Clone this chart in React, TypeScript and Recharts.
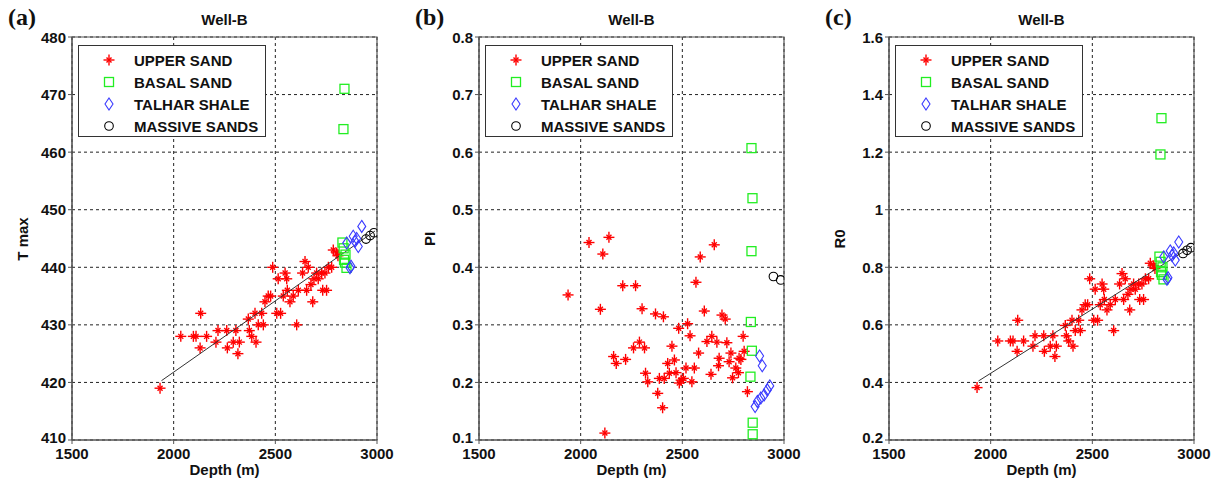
import React from "react";
import {
  ScatterChart, Scatter, XAxis, YAxis, CartesianGrid, ReferenceArea, Legend,
} from "recharts";

const FONT = '"Liberation Sans", Arial, Helvetica, sans-serif';

// depth ticks shared by all panels
const depthTicks = [1500, 2000, 2500, 3000];
const tmaxTicks = [410, 420, 430, 440, 450, 460, 470, 480];
const piTicks = [0.1, 0.2, 0.3, 0.4, 0.5, 0.6, 0.7, 0.8];
const r0Ticks = [0.2, 0.4, 0.6, 0.8, 1, 1.2, 1.4, 1.6];

// Upper sand (panels a & c share depths)
const upperDepth = [
  1933, 2035, 2097, 2110, 2133, 2162, 2130, 2208, 2218, 2261, 2306, 2264, 2293, 2316,
  2323, 2367, 2372, 2384, 2405, 2400, 2416, 2441, 2433, 2449, 2465, 2477, 2507, 2526,
  2487, 2514, 2548, 2556, 2539, 2559, 2572, 2588, 2605, 2613, 2634, 2646, 2654, 2662,
  2675, 2684, 2690, 2703, 2711, 2728, 2744, 2733, 2752, 2761, 2777, 2785, 2802, 2808,
];
const upperTmax = [
  419, 428, 428, 428, 432, 428, 426, 427, 429, 429, 429, 426, 427, 425,
  427, 431, 429, 428, 427, 432, 430, 430, 432, 434, 435, 435, 432, 432,
  440, 438, 439, 438, 435, 436, 434, 435, 430, 436, 439, 441, 436, 440,
  437, 434, 438, 439, 438, 439, 439, 436, 436, 440, 440, 443, 442.5, 442,
];
const upperR0 = [
  0.382, 0.544, 0.544, 0.544, 0.616, 0.544, 0.508, 0.526, 0.562, 0.562, 0.562, 0.508, 0.526, 0.49,
  0.526, 0.598, 0.562, 0.544, 0.526, 0.616, 0.58, 0.58, 0.616, 0.652, 0.67, 0.67, 0.616, 0.616,
  0.76, 0.724, 0.742, 0.724, 0.67, 0.688, 0.652, 0.67, 0.58, 0.688, 0.742, 0.778, 0.688, 0.76,
  0.706, 0.652, 0.724, 0.742, 0.724, 0.742, 0.742, 0.688, 0.688, 0.76, 0.76, 0.814, 0.805, 0.796,
];

// Upper sand (panel b)
const upperPIDepth = [
  1938, 2041, 2109, 2139, 2097, 2207, 2270, 2302, 2368, 2407, 2567, 2588, 2657, 2608,
  2695, 2711, 2162, 2175, 2221, 2260, 2289, 2314, 2319, 2330, 2379, 2403, 2119, 2428,
  2449, 2461, 2387, 2411, 2436, 2469, 2482, 2526, 2538, 2485, 2494, 2505, 2518, 2559,
  2547, 2580, 2621, 2645, 2670, 2641, 2681, 2678, 2719, 2739, 2730, 2779, 2788, 2763,
  2776, 2747, 2799, 2804, 2820,
];
const upperPI = [
  0.352, 0.443, 0.423, 0.452, 0.327, 0.368, 0.368, 0.328, 0.319, 0.314, 0.374, 0.418, 0.439, 0.324,
  0.317, 0.31, 0.245, 0.233, 0.24, 0.26, 0.27, 0.26, 0.216, 0.201, 0.181, 0.156, 0.112, 0.233,
  0.263, 0.239, 0.207, 0.207, 0.216, 0.217, 0.294, 0.302, 0.281, 0.199, 0.204, 0.207, 0.225, 0.225,
  0.201, 0.251, 0.271, 0.28, 0.27, 0.214, 0.242, 0.229, 0.269, 0.251, 0.236, 0.242, 0.24, 0.225,
  0.217, 0.208, 0.28, 0.254, 0.184,
];

// Basal sand
const basalDepth = [2840, 2835, 2830, 2836, 2845, 2838, 2850, 2842];
const basalTmax = [471, 464, 444.3, 443.3, 442.2, 441.3, 439.9, 440.8];
const basalR0 = [1.318, 1.192, 0.837, 0.819, 0.8, 0.783, 0.758, 0.774];
const basalPIDepth = [2840, 2845, 2840, 2837, 2842, 2835, 2846, 2846];
const basalPI = [0.607, 0.52, 0.428, 0.305, 0.255, 0.21, 0.13, 0.11];

// Talhar shale
const talharDepth = [2851, 2867, 2872, 2883, 2892, 2900, 2908, 2925];
const talharTmax = [444.2, 439.9, 440.2, 445.4, 444.5, 445, 443.6, 447.1];
const talharR0 = [0.836, 0.758, 0.764, 0.857, 0.841, 0.85, 0.825, 0.888];
const talharPIDepth = [2880, 2893, 2858, 2869, 2886, 2902, 2918, 2930];
const talharPI = [0.246, 0.229, 0.158, 0.167, 0.173, 0.178, 0.187, 0.194];

// Massive sands
const massiveDepth = [2946, 2966, 2985];
const massiveTmax = [444.9, 445.5, 446];
const massiveR0 = [0.848, 0.859, 0.868];
const massivePIDepth = [2948, 2984];
const massivePI = [0.384, 0.378];

// trend line end points
const fitDepth = [1940, 2990];
const fitTmax = [420.3, 446.3];
const fitR0 = [0.405, 0.873];

const zip = (xs: number[], ys: number[]) => xs.map((x, i) => ({ x, y: ys[i] }));

const Star = ({ cx, cy }: any) => (
  <g stroke="#ff0000" strokeWidth={1.4}>
    <line x1={cx - 5.5} y1={cy} x2={cx + 5.5} y2={cy} />
    <line x1={cx} y1={cy - 5.5} x2={cx} y2={cy + 5.5} />
    <line x1={cx - 2.5} y1={cy - 2.5} x2={cx + 2.5} y2={cy + 2.5} />
    <line x1={cx - 2.5} y1={cy + 2.5} x2={cx + 2.5} y2={cy - 2.5} />
  </g>
);
const Square = ({ cx, cy }: any) => (
  <rect x={cx - 4.5} y={cy - 4.5} width={9} height={9} fill="none" stroke="#22ee22" strokeWidth={1.3} />
);
const Diamond = ({ cx, cy }: any) => (
  <path d={`M${cx},${cy - 6}L${cx + 4},${cy}L${cx},${cy + 6}L${cx - 4},${cy}Z`} fill="none" stroke="#3a3aff" strokeWidth={1.1} />
);
const Circle = ({ cx, cy }: any) => (
  <circle cx={cx} cy={cy} r={4.3} fill="none" stroke="#000" strokeWidth={1.1} />
);
const Empty = () => <g />;

const legendItems = [
  { name: "UPPER SAND", Mark: Star },
  { name: "BASAL SAND", Mark: Square },
  { name: "TALHAR SHALE", Mark: Diamond },
  { name: "MASSIVE SANDS", Mark: Circle },
];

function LegendBox() {
  return (
    <div style={{
      width: 188, height: 92, boxSizing: "border-box", border: "1px solid #333",
      background: "#fff", paddingTop: 3, fontFamily: FONT, fontWeight: 700, fontSize: 15, color: "#111",
    }}>
      {legendItems.map(({ name, Mark }) => (
        <div key={name} style={{ height: 22, display: "flex", alignItems: "center" }}>
          <svg width={55} height={22} style={{ flex: "none" }}>
            <Mark cx={30} cy={11} />
          </svg>
          <span>{name}</span>
        </div>
      ))}
    </div>
  );
}

const tickStyle = { fontSize: 15, fontWeight: 700, fill: "#111", fontFamily: FONT };

// y tick: the lowest label is nudged up a little so it clears the first depth label
const YTick = ({ x, y, payload, min }: any) => (
  <text
    x={x} y={payload.value === min ? y - 3 : y} textAnchor="end" dominantBaseline="central"
    fontSize={15} fontWeight={700} fill="#111" fontFamily={FONT}
  >
    {String(payload.value)}
  </text>
);

type PanelProps = {
  plotLeft: number;
  letter: string;
  yLabel: string;
  yDomain: [number, number];
  yTicks: number[];
  upper: { x: number; y: number }[];
  basal: { x: number; y: number }[];
  talhar: { x: number; y: number }[];
  massive: { x: number; y: number }[];
  fit?: { x: number; y: number }[];
};

function Panel({ plotLeft, letter, yLabel, yDomain, yTicks, upper, basal, talhar, massive, fit }: PanelProps) {
  const left = plotLeft - 72;
  return (
    <>
      <div style={{ position: "absolute", left: left + 8, top: 4, fontFamily: '"Liberation Serif", "Times New Roman", serif', fontWeight: 700, fontSize: 24, color: "#111" }}>
        {letter}
      </div>
      <div style={{ position: "absolute", left: plotLeft, width: 305, top: 11, textAlign: "center", fontFamily: FONT, fontWeight: 700, fontSize: 15, color: "#111" }}>
        Well-B
      </div>
      <div style={{
        position: "absolute", left: left + 22, top: 239, transform: "translate(-50%, -50%) rotate(-90deg)",
        whiteSpace: "nowrap", fontFamily: FONT, fontWeight: 700, fontSize: 15, color: "#111",
      }}>
        {yLabel}
      </div>
      <div style={{ position: "absolute", left: plotLeft, width: 305, top: 461, textAlign: "center", fontFamily: FONT, fontWeight: 700, fontSize: 15, color: "#111" }}>
        Depth (m)
      </div>
      <div style={{ position: "absolute", left, top: 0, width: 402, height: 480 }}>
        <ScatterChart width={402} height={480} margin={{ top: 37, right: 25, bottom: 10, left: 32 }}>
          <CartesianGrid stroke="#222" strokeDasharray="3 3" />
          <XAxis
            type="number" dataKey="x" domain={[1500, 3000]} ticks={depthTicks} interval={0}
            height={30} tickSize={4} tickMargin={4} tick={tickStyle}
            axisLine={{ stroke: "#555" }} tickLine={{ stroke: "#555" }} allowDataOverflow
          />
          <YAxis
            type="number" dataKey="y" domain={yDomain} ticks={yTicks} interval={0}
            width={40} tickSize={4} tickMargin={2} tick={<YTick min={yDomain[0]} />}
            axisLine={{ stroke: "#555" }} tickLine={{ stroke: "#555" }} allowDataOverflow
          />
          <ReferenceArea x1={1500} x2={3000} y1={yDomain[0]} y2={yDomain[1]} fill="none" stroke="#555" strokeWidth={1.2} />
          <Scatter name="UPPER SAND" data={upper} shape={Star} isAnimationActive={false} />
          {fit && (
            <Scatter data={fit} shape={Empty} line={{ stroke: "#333", strokeWidth: 1 }} legendType="none" isAnimationActive={false} />
          )}
          <Scatter name="BASAL SAND" data={basal} shape={Square} isAnimationActive={false} />
          <Scatter name="TALHAR SHALE" data={talhar} shape={Diamond} isAnimationActive={false} />
          <Scatter name="MASSIVE SANDS" data={massive} shape={Circle} isAnimationActive={false} />
          <Legend
            content={<LegendBox />} layout="vertical" align="center" verticalAlign="middle"
            wrapperStyle={{ top: 45, left: 78, width: 188, height: 92 }}
          />
        </ScatterChart>
      </div>
    </>
  );
}

export default function App() {
  return (
    <div style={{ position: "absolute", left: 0, top: 0, width: 1217, height: 480, background: "#fff", overflow: "hidden" }}>
      <Panel
        plotLeft={72} letter="(a)" yLabel="T max" yDomain={[410, 480]} yTicks={tmaxTicks}
        upper={zip(upperDepth, upperTmax)} basal={zip(basalDepth, basalTmax)}
        talhar={zip(talharDepth, talharTmax)} massive={zip(massiveDepth, massiveTmax)}
        fit={zip(fitDepth, fitTmax)}
      />
      <Panel
        plotLeft={479} letter="(b)" yLabel="PI" yDomain={[0.1, 0.8]} yTicks={piTicks}
        upper={zip(upperPIDepth, upperPI)} basal={zip(basalPIDepth, basalPI)}
        talhar={zip(talharPIDepth, talharPI)} massive={zip(massivePIDepth, massivePI)}
      />
      <Panel
        plotLeft={889} letter="(c)" yLabel="R0" yDomain={[0.2, 1.6]} yTicks={r0Ticks}
        upper={zip(upperDepth, upperR0)} basal={zip(basalDepth, basalR0)}
        talhar={zip(talharDepth, talharR0)} massive={zip(massiveDepth, massiveR0)}
        fit={zip(fitDepth, fitR0)}
      />
    </div>
  );
}
